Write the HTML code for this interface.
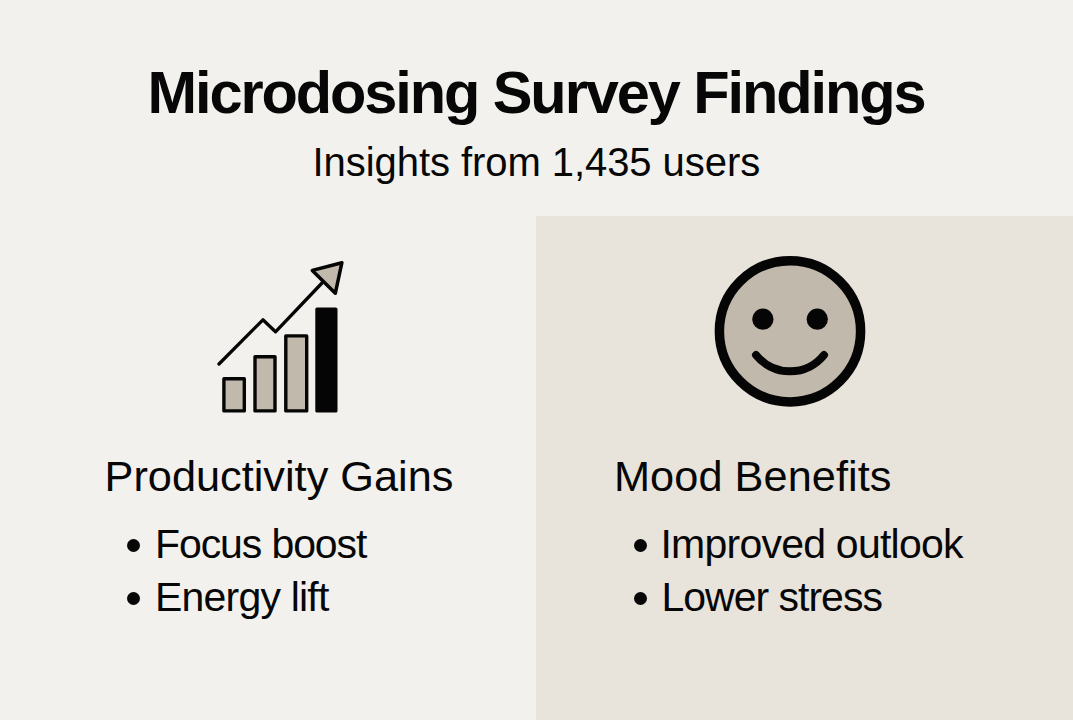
<!DOCTYPE html>
<html>
<head>
<meta charset="utf-8">
<style>
html,body{margin:0;padding:0;}
body{width:1073px;height:720px;overflow:hidden;position:relative;background:#f2f1ed;font-family:"Liberation Sans",sans-serif;color:#070707;}
.panel{position:absolute;left:536px;top:216px;width:537px;height:504px;background:#e8e4dc;}
.t{position:absolute;white-space:nowrap;line-height:1;}
#title{left:147.5px;top:63px;font-size:59.5px;font-weight:bold;letter-spacing:-2.08px;}
#sub{left:312.5px;top:142px;font-size:40px;letter-spacing:-0.06px;}
#h1{left:104.5px;top:455px;font-size:43.3px;}
#h2{left:614px;top:455px;font-size:43.3px;letter-spacing:0.05px;}
.b{font-size:41px;letter-spacing:-1.1px;}
#b1{left:155px;top:523.5px;}
#b2{left:155px;top:577px;letter-spacing:-0.8px;}
#b3{left:660.5px;top:523.5px;letter-spacing:-0.77px;}
#b4{left:661.5px;top:577px;letter-spacing:-1px;}
.dot{position:absolute;width:13px;height:13px;border-radius:50%;background:#070707;}
svg{position:absolute;left:0;top:0;}
</style>
</head>
<body>
<div class="panel"></div>
<div class="t" id="title">Microdosing Survey Findings</div>
<div class="t" id="sub">Insights from 1,435 users</div>
<div class="t" id="h1">Productivity Gains</div>
<div class="t" id="h2">Mood Benefits</div>
<div class="dot" style="left:127.3px;top:538.7px"></div>
<div class="dot" style="left:127.2px;top:592.2px"></div>
<div class="dot" style="left:633.5px;top:538.7px"></div>
<div class="dot" style="left:633.5px;top:592.1px"></div>
<div class="t b" id="b1">Focus boost</div>
<div class="t b" id="b2">Energy lift</div>
<div class="t b" id="b3">Improved outlook</div>
<div class="t b" id="b4">Lower stress</div>
<svg width="1073" height="720" viewBox="0 0 1073 720">
  <g stroke="#050505" stroke-width="3.4" stroke-linejoin="round" stroke-linecap="round">
    <rect x="223.9" y="378.7" width="20.4" height="32.2" fill="#c1b9ab"/>
    <rect x="255" y="356.7" width="20" height="54.2" fill="#c1b9ab"/>
    <rect x="285.8" y="335.9" width="20.9" height="75" fill="#c1b9ab"/>
    <rect x="317" y="309.1" width="18.8" height="101.8" fill="#050505"/>
    <polyline points="219,364 262.9,319.8 275.5,331.8 322,283" fill="none" stroke-width="3.3"/>
    <polygon points="312.3,270.4 341.9,262.7 335.3,293.3" fill="#c1b9ab" stroke-width="3.5"/>
  </g>
  <g stroke="#050505" stroke-linecap="round">
    <circle cx="790" cy="331.3" r="70.6" stroke-width="9.5" fill="#c1b9ab"/>
    <path d="M756,355 A43.6,43.6 0 0 0 824,355" stroke-width="8" fill="none"/>
  </g>
  <circle cx="762.9" cy="319.2" r="10.6" fill="#050505"/>
  <circle cx="817.3" cy="319.2" r="10.6" fill="#050505"/>
</svg>
</body>
</html>
